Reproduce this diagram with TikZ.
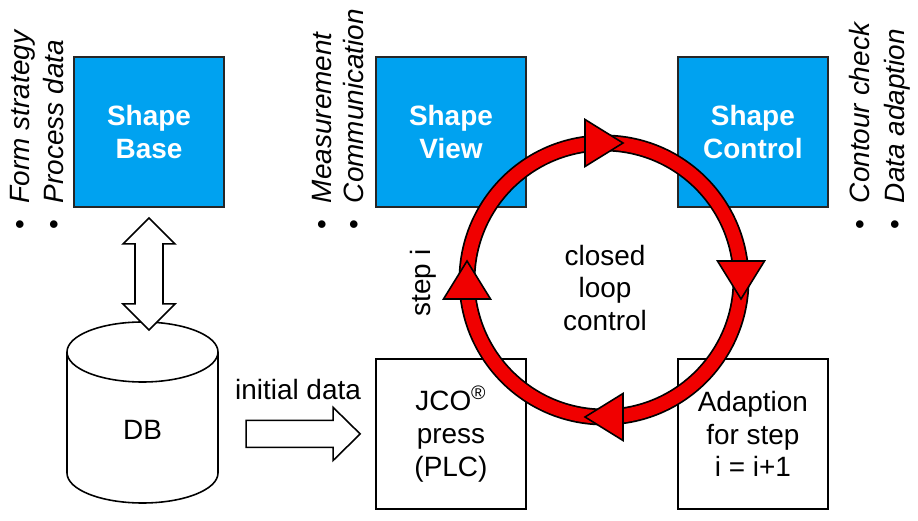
\documentclass[tikz,border=0pt]{standalone}
\usepackage{fontspec}
\setmainfont{Liberation Sans}
\usepackage{tikz}
\usetikzlibrary{calc}
\definecolor{shapeblue}{RGB}{0,162,240}
\definecolor{loopred}{RGB}{240,0,0}

\begin{document}
\begin{tikzpicture}[x=0.02cm,y=0.02cm,node distance=6.04cm,
                    font=\fontsize{15.9}{18.7}\selectfont]
  \tikzstyle{module}=[rectangle,draw=black!85,line width=1.1pt,fill=shapeblue,
                      text=white,font=\fontsize{15.9}{18.7}\selectfont\bfseries,
                      minimum size=3cm,inner sep=0pt,align=center]
  \tikzstyle{station}=[rectangle,draw=black,line width=0.9pt,fill=white,
                       minimum size=3cm,inner sep=0pt,align=center]
  \tikzstyle{task}=[rotate=90,anchor=base west,inner sep=0pt]
  \tikzstyle{hollow}=[draw=black,line width=0.9pt,fill=white,line join=miter]
  \tikzstyle{head}=[draw=black,line width=0.9pt,fill=loopred,line join=miter]

  \useasboundingbox (0,0) rectangle (918,520);

  % the three modules and the two stations
  \node[module]  (base)    at (149,388)    {Shape\\Base};
  \node[module]  (view)    [right of=base] {Shape\\View};
  \node[module]  (control) [right of=view] {Shape\\Control};
  \node[station] (press)   [below of=view] {JCO\textsuperscript{\textregistered}\\press\\(PLC)};
  \node[station] (adapt)   [right of=press] {Adaption\\for step\\i = i+1};

  % task lists
  \node[task] (form)    at (29,290)  {\textbullet\hspace{0.6em}\textit{Form strategy}};
  \node[task] (process) at (63,290)  {\textbullet\hspace{0.6em}\textit{Process data}};
  \node[task] (measure) at (331,290) {\textbullet\hspace{0.6em}\textit{Measurement}};
  \node[task] (comm)    at (363,290) {\textbullet\hspace{0.6em}\textit{Communication}};
  \node[task] (contour) at (869,290) {\textbullet\hspace{0.6em}\textit{Contour check}};
  \node[task] (dataad)  at (904,290) {\textbullet\hspace{0.6em}\textit{Data adaption}};

  % database
  \draw[hollow] (67,168) -- (67,47) arc[start angle=180,end angle=360,
        x radius=75.5,y radius=30] -- (218,168);
  \draw[hollow] (142.5,168) ellipse [x radius=75.5,y radius=30];
  \coordinate (dbtop) at (142.5,198);
  \node (db) at (142.5,90) {DB};

  % hollow arrows
  \draw[hollow] ($(base.south)+(0,-10)$) -- ++(26,-26) -- ++(-12,0) -- ++(0,-60)
        -- ++(12,0) -- ++(-26,-26) -- ++(-26,26) -- ++(12,0) -- ++(0,60)
        -- ++(-12,0) -- cycle;
  \draw[hollow] ($(press.west)+(-15,0)$) -- ++(-27,26.5) -- ++(0,-13) -- ++(-87,0)
        -- ++(0,-27) -- ++(87,0) -- ++(0,-13) -- cycle;
  \node (init) at (298,130) {initial data};

  % closed loop
  \coordinate (loop) at (604,240);
  \draw[line width=9.6pt,black] (loop) circle[radius=137];
  \draw[line width=7.6pt,loopred] (loop) circle[radius=137];
  \foreach \a in {0,90,180,270}
    \draw[head] ($(loop)+(\a:137)+(\a-90:19)$)
             -- ($(loop)+(\a:160.5)+(\a+90:19)$)
             -- ($(loop)+(\a:113.5)+(\a+90:19)$) -- cycle;

  \node[align=center] (closed) at (605,232) {closed\\loop\\control};
  \node[rotate=90] (step) at (423,237) {step i};
\end{tikzpicture}
\end{document}
